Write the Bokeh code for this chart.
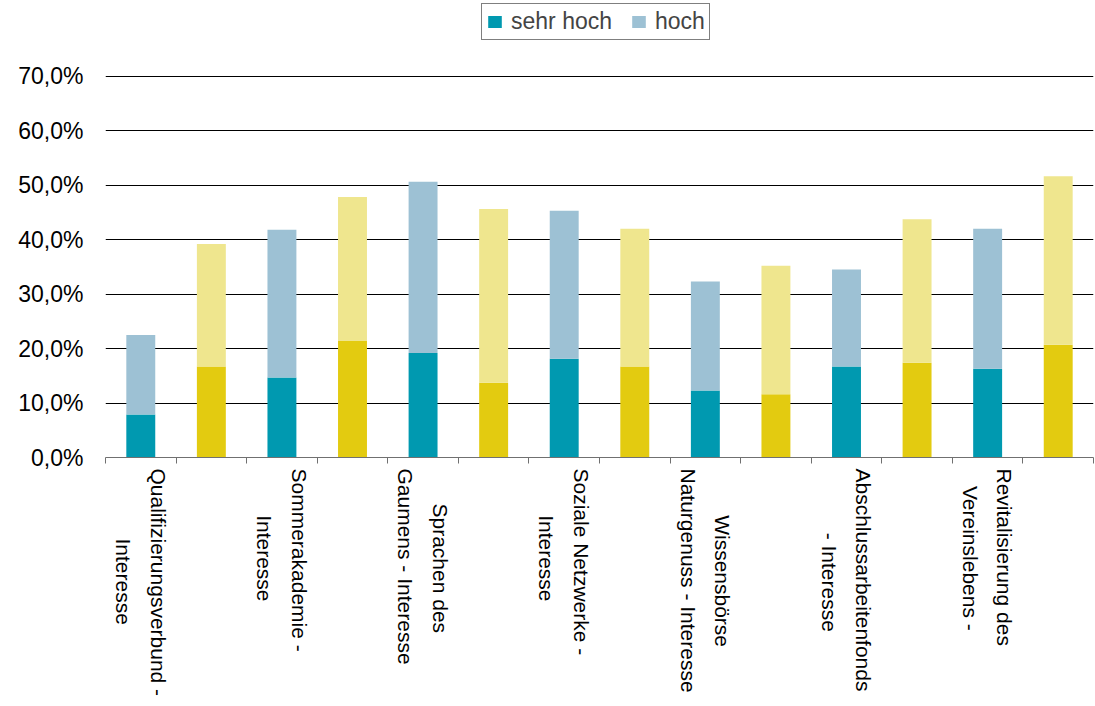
import math
from bokeh.plotting import figure
from bokeh.models import (FixedTicker, ColumnDataSource, Legend, LegendItem,
                          CustomJSTickFormatter, Range1d)
from bokeh.embed import file_html
from bokeh.resources import INLINE

# ---- data ----
labels = [
    "Qualifizierungsverbund -\nInteresse", "",
    "Sommerakademie -\nInteresse", "",
    "Sprachen des\nGaumens - Interesse", "",
    "Soziale Netzwerke -\nInteresse", "",
    "Wissensbörse\nNaturgenuss - Interesse", "",
    "Abschlussarbeitenfonds\n- Interesse", "",
    "Revitalisierung des\nVereinslebens -", "",
]
sehr_hoch = [7.9, 16.7, 14.7, 21.4, 19.2, 13.7, 18.1, 16.7, 12.3, 11.6, 16.7, 17.4, 16.3, 20.7]
hoch = [14.6, 22.5, 27.1, 26.4, 31.4, 31.9, 27.2, 25.3, 20.0, 23.6, 17.8, 26.3, 25.7, 30.9]
group = ["blau", "gelb"] * 7
y_ticks = [0, 10, 20, 30, 40, 50, 60, 70]
legend_labels = ["sehr hoch", "hoch"]

colors = {
    "blau": ("#0099B0", "#9DC1D4"),
    "gelb": ("#E3CB10", "#EFE68E"),
}

# approximate Liberation Sans advance widths (em/1000) used to centre wrapped lines
_W = {" ": 278, "-": 333, "A": 667, "G": 778, "I": 278, "N": 722, "P": 667, "Q": 778,
      "R": 722, "S": 667, "V": 667, "W": 944, "a": 556, "b": 556, "c": 500, "d": 556,
      "e": 556, "f": 278, "g": 556, "h": 556, "i": 222, "k": 500, "l": 222, "m": 833,
      "n": 556, "o": 556, "r": 333, "s": 500, "t": 278, "u": 556, "v": 500, "z": 500,
      "ö": 556}


def centre_lines(txt):
    if not txt:
        return txt
    lines = txt.split("\n")
    widths = [sum(_W.get(c, 556) for c in ln) for ln in lines]
    wmax = max(widths)
    out = []
    for ln, w in zip(lines, widths):
        k = int(round((wmax - w) / 2 / 278))
        out.append("\u00a0" * k + ln)
    return "\n".join(out)


n = len(labels)
xs = [i + 0.5 for i in range(n)]
totals = [a + b for a, b in zip(sehr_hoch, hoch)]

# frame spans from the legend row down to the zero line; ticks stop at 70
p = figure(width=1095, height=706, x_range=Range1d(0, n), y_range=Range1d(0, 83.5),
           output_backend="svg", toolbar_location=None,
           min_border_left=105, min_border_right=2, min_border_top=2,
           min_border_bottom=249)
p.outline_line_color = None
p.background_fill_color = "white"
p.border_fill_color = "white"

renderers = {}
for g in ["blau", "gelb"]:
    idx = [i for i in range(n) if group[i] == g]
    src = ColumnDataSource(dict(
        x=[xs[i] for i in idx],
        dark=[sehr_hoch[i] for i in idx],
        total=[totals[i] for i in idx],
    ))
    r1 = p.vbar(x="x", width=0.41, bottom=0, top="dark", source=src,
                fill_color=colors[g][0], line_color=None)
    r2 = p.vbar(x="x", width=0.41, bottom="dark", top="total", source=src,
                fill_color=colors[g][1], line_color=None)
    renderers[g] = (r1, r2)

# x axis
xa = p.xaxis[0]
label_pos = [xs[i] for i in range(n) if labels[i]]
xa.ticker = FixedTicker(ticks=label_pos, minor_ticks=list(range(n + 1)))
xa.major_label_overrides = {xs[i]: centre_lines(labels[i]) for i in range(n) if labels[i]}
xa.major_tick_out = 0
xa.major_tick_in = 0
xa.minor_tick_out = 6
xa.minor_tick_in = 0
xa.minor_tick_line_color = "#707070"
xa.axis_line_color = "#707070"
xa.major_label_orientation = -math.pi / 2
xa.major_label_standoff = 5
xa.major_label_text_font = "Liberation Sans"
xa.major_label_text_font_size = "21px"
xa.major_label_text_line_height = 1.5
xa.major_label_text_color = "black"

# y axis
ya = p.yaxis[0]
ya.ticker = FixedTicker(ticks=y_ticks)
ya.formatter = CustomJSTickFormatter(code="return tick.toFixed(1).replace('.', ',') + '%';")
ya.axis_line_color = None
ya.major_tick_out = 0
ya.major_tick_in = 0
ya.minor_tick_line_color = None
ya.major_label_standoff = 22
ya.major_label_text_font = "Liberation Sans"
ya.major_label_text_font_size = "23px"
ya.major_label_text_color = "black"

p.xgrid.visible = False
p.ygrid.ticker = FixedTicker(ticks=y_ticks[1:])
p.ygrid.grid_line_color = "black"
p.ygrid.grid_line_width = 1

legend = Legend(items=[
    LegendItem(label=legend_labels[0], renderers=[renderers["blau"][0]]),
    LegendItem(label=legend_labels[1], renderers=[renderers["blau"][1]]),
], orientation="horizontal", location=(376, 417))
legend.border_line_color = "black"
legend.border_line_width = 1
legend.background_fill_color = "white"
legend.background_fill_alpha = 1
legend.label_text_font = "Liberation Sans"
legend.label_text_font_size = "23px"
legend.glyph_width = 17
legend.glyph_height = 15
legend.spacing = 18
legend.padding = 4
legend.margin = 0
legend.label_standoff = 8
p.add_layout(legend)

open("out.html", "w").write(file_html(p, INLINE))
